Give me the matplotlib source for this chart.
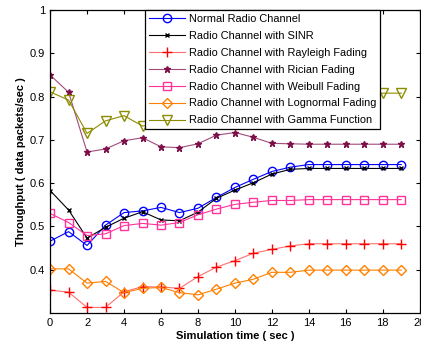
import matplotlib.pyplot as plt

plt.rcParams['font.family'] = ['Liberation Sans', 'DejaVu Sans']

# simulation time steps (sec)
sim_time = list(range(20))

# throughput per channel model (data packets/sec)
normal = [0.466, 0.488, 0.456, 0.503, 0.532, 0.536, 0.544, 0.532, 0.542, 0.567,
          0.590, 0.609, 0.627, 0.637, 0.643, 0.643, 0.643, 0.643, 0.643, 0.643]
sinr = [0.583, 0.538, 0.473, 0.498, 0.519, 0.534, 0.515, 0.513, 0.533, 0.565,
        0.584, 0.601, 0.621, 0.632, 0.634, 0.634, 0.634, 0.634, 0.634, 0.634]
rayleigh = [0.353, 0.348, 0.313, 0.313, 0.349, 0.361, 0.360, 0.357, 0.384, 0.406,
            0.421, 0.438, 0.447, 0.455, 0.460, 0.460, 0.460, 0.460, 0.460, 0.460]
rician = [0.850, 0.810, 0.672, 0.679, 0.698, 0.705, 0.684, 0.682, 0.691, 0.711,
          0.717, 0.706, 0.692, 0.691, 0.690, 0.690, 0.690, 0.690, 0.690, 0.690]
weibull = [0.530, 0.509, 0.479, 0.483, 0.502, 0.507, 0.503, 0.509, 0.527, 0.540,
           0.551, 0.556, 0.560, 0.560, 0.562, 0.562, 0.562, 0.562, 0.562, 0.562]
lognormal = [0.402, 0.402, 0.369, 0.373, 0.347, 0.357, 0.359, 0.347, 0.342, 0.355,
             0.369, 0.378, 0.394, 0.394, 0.399, 0.399, 0.399, 0.399, 0.399, 0.399]
gamma = [0.811, 0.792, 0.715, 0.744, 0.756, 0.732, 0.740, 0.752, 0.765, 0.776,
         0.786, 0.795, 0.800, 0.804, 0.807, 0.808, 0.808, 0.808, 0.808, 0.808]

x_ticks = list(range(0, 21, 2))
y_ticks = [0.4, 0.5, 0.6, 0.7, 0.8, 0.9, 1.0]
y_tick_labels = ['0.4', '0.5', '0.6', '0.7', '0.8', '0.9', '1']

fig = plt.figure(figsize=(4.21, 3.47), dpi=100)
ax = fig.add_axes([0.119, 0.098, 0.878, 0.873])

ms = 6
lw = 0.8
ax.plot(sim_time, normal, color='#0000ff', marker='o', ms=ms, mfc='none', lw=lw,
        label='Normal Radio Channel')
ax.plot(sim_time, sinr, color='black', marker='x', ms=3.5, mew=1.0, lw=lw,
        label='Radio Channel with SINR')
ax.plot(sim_time, rayleigh, color='#ff7070', marker='+', ms=7, mec='#ff0000', mew=1.0,
        lw=lw, label='Radio Channel with Rayleigh Fading')
ax.plot(sim_time, rician, color='#a34a7c', marker='*', ms=5, mec='#7d1048', mfc='#7d1048',
        lw=lw, label='Radio Channel with Rician Fading')
ax.plot(sim_time, weibull, color='#ff3399', marker='s', ms=ms, mfc='none', lw=lw,
        label='Radio Channel with Weibull Fading')
ax.plot(sim_time, lognormal, color='#ff8000', marker='D', ms=5.5, mfc='none', lw=lw,
        label='Radio Channel with Lognormal Fading')
ax.plot(sim_time, gamma, color='#8c8c00', marker='v', ms=7, mfc='none', lw=lw,
        label='Radio Channel with Gamma Function')

ax.set_xlim(0, 20)
ax.set_ylim(0.3, 1.0)
ax.set_xticks(x_ticks)
ax.set_yticks(y_ticks)
ax.set_yticklabels(y_tick_labels)
ax.tick_params(direction='in', top=True, right=True, labelsize=8, length=3, width=0.8)
for spine in ax.spines.values():
    spine.set_linewidth(0.9)

ax.set_xlabel('Simulation time ( sec )', fontsize=8, fontweight='bold', labelpad=2)
ax.set_ylabel('Throughput ( data packets/sec )', fontsize=8, fontweight='bold', labelpad=3)

leg = ax.legend(loc='upper right', bbox_to_anchor=(0.892, 1.0), borderaxespad=0,
                fontsize=7.9, frameon=True, fancybox=False, edgecolor='black',
                framealpha=1, handlelength=3.3, handletextpad=0.35,
                labelspacing=0.63, borderpad=0.35)
leg.get_frame().set_linewidth(0.9)

fig.savefig('out.png', dpi=100)
